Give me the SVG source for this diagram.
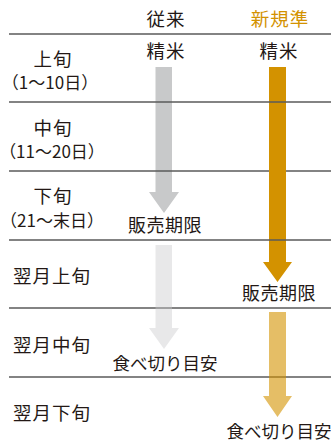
<svg xmlns="http://www.w3.org/2000/svg" width="331" height="442" viewBox="0 0 331 442">
<style>
text{font-family:"Noto Sans CJK JP","Noto Sans",sans-serif;fill:#231815;}
.h{font-size:18.5px;letter-spacing:1px;text-anchor:middle;}
.l{font-size:18.5px;letter-spacing:1px;}
.s{font-size:17px;text-anchor:middle;}
.c{font-size:18px;letter-spacing:0.5px;text-anchor:middle;}
.e{font-size:17.5px;text-anchor:middle;}
.or{fill:#d39200;}
.rule{stroke:#5a5a5a;stroke-width:1.3;}
</style>
<rect width="331" height="442" fill="#fff"/>
<g id="rows">
<g id="row1"><text class="h" x="53" y="66">上旬</text><text class="s" x="50" y="89">（1～10日）</text></g>
<g id="row2"><text class="h" x="53" y="135">中旬</text><text class="s" x="52" y="158">（11～20日）</text></g>
<g id="row3"><text class="h" x="53" y="203">下旬</text><text class="s" x="52" y="227">（21～末日）</text></g>
<g id="row4"><text class="l" x="13" y="283">翌月上旬</text></g>
<g id="row5"><text class="l" x="13" y="352">翌月中旬</text></g>
<g id="row6"><text class="l" x="13" y="420">翌月下旬</text></g>
</g>
<g id="connectors">
<path d="M155.5 67H172V192H179L164 213L149 192H155.5Z" fill="#c8c9ca"/>
<path d="M269 67H286V262H292L277.5 282L263 262H269Z" fill="#d39200"/>
</g>
<g id="rules">
<line class="rule" x1="9" y1="34" x2="331" y2="34"/>
<line class="rule" x1="9" y1="102" x2="331" y2="102"/>
<line class="rule" x1="9" y1="171" x2="269" y2="171"/>
<line class="rule" x1="286" y1="171" x2="331" y2="171"/>
<line class="rule" x1="9" y1="240" x2="331" y2="240"/>
<line class="rule" x1="9" y1="308" x2="331" y2="308"/>
<line class="rule" x1="9" y1="377" x2="331" y2="377"/>
</g>
<g id="connectors-light">
<path d="M155.5 245H172V328H179L164 349L149 328H155.5Z" fill="#c8c9ca" fill-opacity="0.42"/>
<path d="M269 312H286V396H292L277.5 417L263 396H269Z" fill="#d39200" fill-opacity="0.6"/>
</g>
<g id="labels">
<g id="col-old"><text class="h" x="166" y="26">従来</text></g>
<g id="col-new"><text class="h or" x="280" y="26">新規準</text></g>
<g id="n-old-rice"><text class="h" x="166" y="58">精米</text></g>
<g id="n-new-rice"><text class="h" x="279" y="58">精米</text></g>
<g id="n-old-sell"><text class="c" x="165" y="232">販売期限</text></g>
<g id="n-new-sell"><text class="c" x="279" y="300">販売期限</text></g>
<g id="n-old-eat"><text class="e" x="165" y="370">食べ切り目安</text></g>
<g id="n-new-eat"><text class="e" x="279" y="438">食べ切り目安</text></g>
</g>
</svg>
